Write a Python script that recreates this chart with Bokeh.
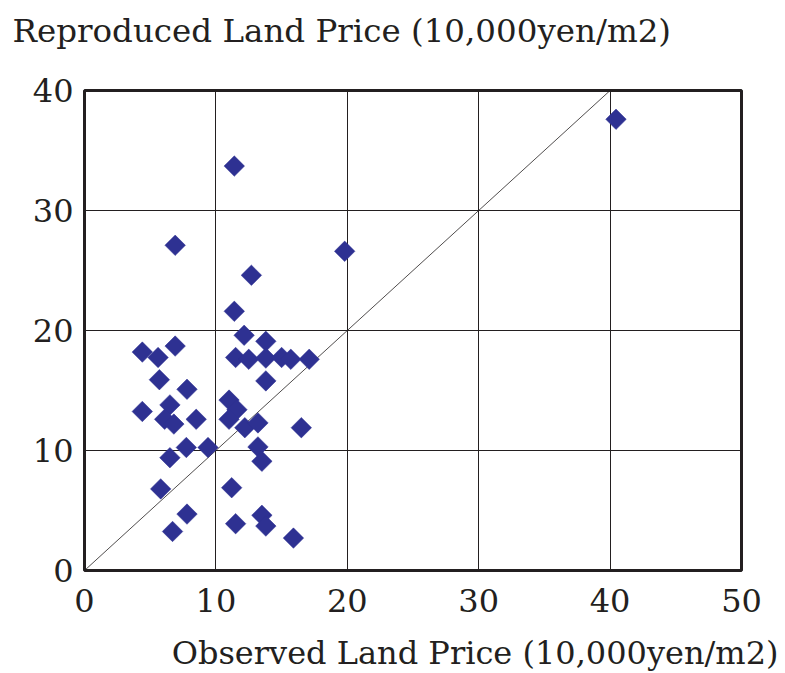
import math
from bokeh.plotting import figure
from bokeh.models import Title, FixedTicker
from bokeh.embed import file_html
from bokeh.resources import INLINE

# Data
observed = [40.45, 11.4, 6.9, 19.8, 12.7, 11.4, 12.15, 13.8, 4.4, 6.9, 5.6, 11.5, 12.5, 13.8,
            15.0, 15.7, 17.1, 5.7, 13.8, 7.8, 11.0, 11.6, 4.4, 6.5, 6.1, 6.8, 8.5, 11.0,
            12.2, 13.2, 16.5, 7.75, 9.4, 13.2, 6.5, 13.5, 5.8, 11.2, 7.8, 13.5, 11.5, 13.8,
            6.7, 15.9]
reproduced = [37.6, 33.7, 27.1, 26.6, 24.6, 21.6, 19.6, 19.1, 18.2, 18.7, 17.75, 17.75, 17.6, 17.7,
              17.75, 17.6, 17.6, 15.9, 15.8, 15.1, 14.2, 13.4, 13.25, 13.8, 12.6, 12.2, 12.6, 12.6,
              11.9, 12.3, 11.9, 10.25, 10.25, 10.3, 9.4, 9.1, 6.8, 6.9, 4.7, 4.6, 3.9, 3.7,
              3.25, 2.7]
diag_x = [0, 40]
diag_y = [0, 40]
x_ticks = [0, 10, 20, 30, 40, 50]
y_ticks = [0, 10, 20, 30, 40]
y_title = "Reproduced Land Price (10,000yen/m2)"
x_title = "Observed Land Price (10,000yen/m2)"

FONT = "DejaVu Serif"
TXT = "#231f20"

p = figure(width=782, height=673, output_backend="svg", toolbar_location=None,
           x_range=(0, 50), y_range=(0, 40),
           min_border_left=84, min_border_right=41, min_border_top=90, min_border_bottom=103)

p.title.text = y_title
p.title.align = "left"
p.title.offset = -72
p.title.text_font = FONT
p.title.text_font_size = "32.5px"
p.title.text_font_style = "normal"
p.title.text_color = TXT
p.title.vertical_align = "top"
p.title.text_line_height = 1.0
p.title.standoff = 0
p.title.padding = dict(top=0, right=0, bottom=39, left=0)

xt = Title(text=x_title, align="right", offset=-37,
           text_font=FONT, text_font_size="32px", text_font_style="normal",
           text_color=TXT, standoff=0, vertical_align="bottom", text_line_height=1.0,
           padding=dict(top=17, right=0, bottom=0, left=0))
p.add_layout(xt, "below")

p.outline_line_color = TXT
p.outline_line_width = 3
p.outline_line_alpha = 1

for ax in (p.xaxis, p.yaxis):
    ax.axis_line_color = None
    ax.major_tick_line_color = None
    ax.minor_tick_line_color = None
    ax.major_label_text_font = FONT
    ax.major_label_text_font_size = "32px"
    ax.major_label_text_color = TXT

p.xaxis.ticker = FixedTicker(ticks=x_ticks)
p.yaxis.ticker = FixedTicker(ticks=y_ticks)
p.xaxis.major_label_standoff = 12
p.yaxis.major_label_standoff = 5

p.xgrid.ticker = FixedTicker(ticks=x_ticks)
p.ygrid.ticker = FixedTicker(ticks=y_ticks)
p.grid.grid_line_color = TXT
p.grid.grid_line_width = 1
p.grid.grid_line_alpha = 1

p.line(diag_x, diag_y, line_color=TXT, line_width=0.8)
p.scatter(observed, reproduced, marker="square", size=14.5, angle=math.pi / 4,
          fill_color="#2e3192", line_color="#2e3192", line_width=0.5)

open("out.html", "w").write(file_html(p, INLINE))
